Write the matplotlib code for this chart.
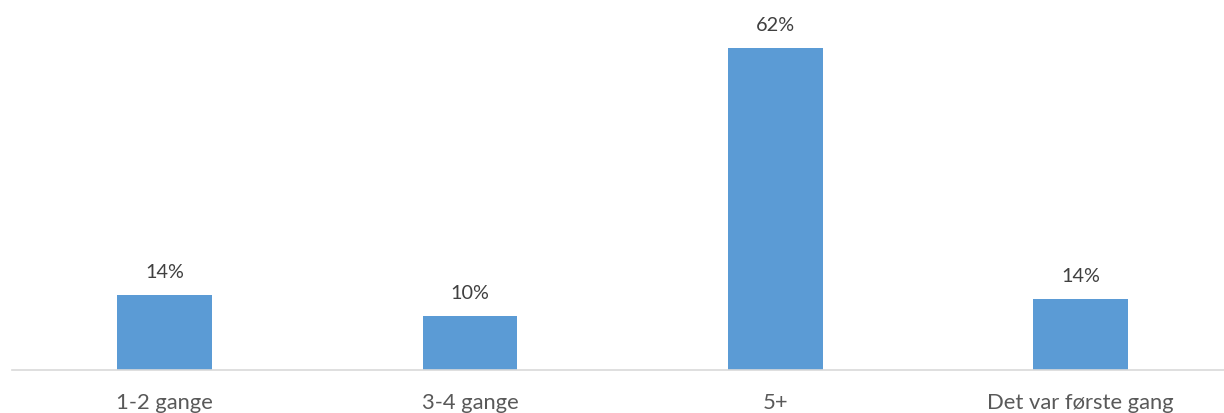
import matplotlib
matplotlib.use("Agg")
import matplotlib.pyplot as plt

categories = ["1-2 gange", "3-4 gange", "5+", "Det var første gang"]
values = [14.4, 10.4, 62.0, 13.7]
labels = ["14%", "10%", "62%", "14%"]

W, H = 1224, 414
fig = plt.figure(figsize=(W / 100, H / 100), dpi=100)
plt.rcParams['font.family'] = ['Lato', 'DejaVu Sans']

left_px, base_px, top_px = 12, 371, 10
ax = fig.add_axes([left_px / W, (H - base_px) / H, (W - left_px) / W, (base_px - top_px) / H])
px_per_unit = (371 - 49) / 62.0
ax.set_ylim(0, (base_px - top_px) / px_per_unit)
ax.set_xlim(-0.5, -0.5 + (W - left_px) / 305.3)

x = range(len(categories))
bars = ax.bar(x, values, width=0.31, color="#5B9BD5")
for xi, v, lab in zip(x, values, labels):
    ax.annotate(lab, (xi, v), xytext=(0, 11), textcoords="offset points",
                ha="center", va="bottom", fontsize=14.3, color="#404040")

for s in ["top", "right", "left"]:
    ax.spines[s].set_visible(False)
ax.spines["bottom"].set_color("#D9D9D9")
ax.spines["bottom"].set_linewidth(1.2)
ax.set_yticks([])
ax.set_xticks(list(x))
ax.set_xticklabels(categories, fontsize=15.8, color="#595959")
ax.tick_params(axis="x", length=0, pad=16)

fig.savefig("out.png", dpi=100)
